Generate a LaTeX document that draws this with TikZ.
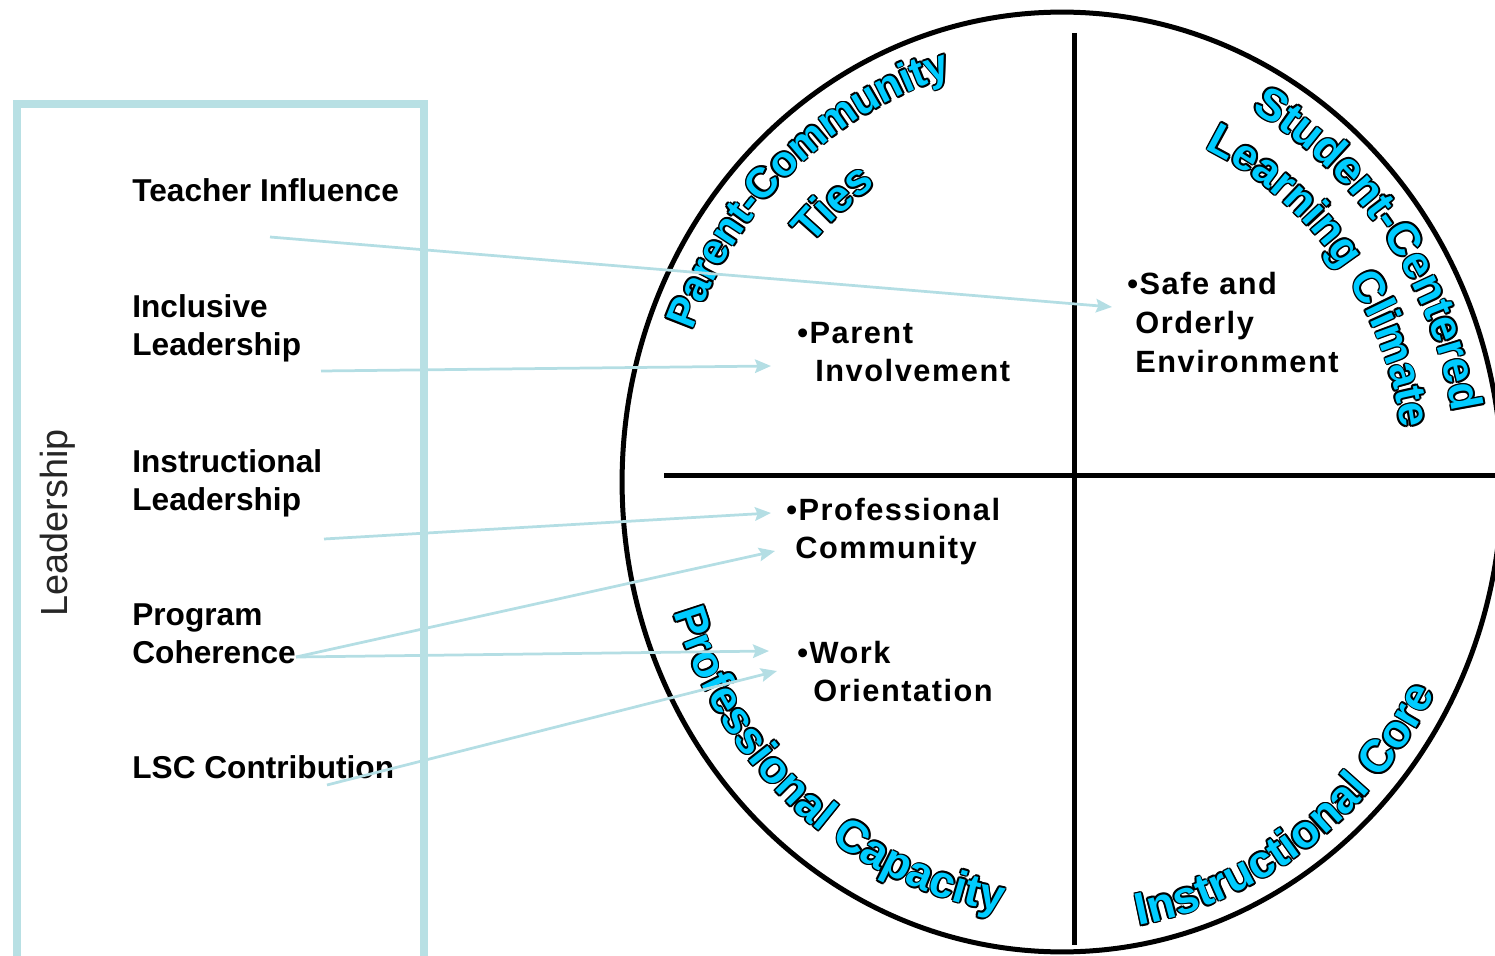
\documentclass[tikz,border=0pt]{standalone}
\usepackage{fontspec}
\setmainfont{Liberation Sans}
\newfontfamily\itemfont{Liberation Sans}[LetterSpace=5.0]
\usetikzlibrary{decorations.text,arrows.meta}

\definecolor{ringcyan}{RGB}{0,204,255}
\definecolor{frameblue}{RGB}{184,224,228}
\definecolor{linkblue}{RGB}{180,222,228}

\def\ringsz{25}
\newcommand{\ringstyle}{\bfseries\fontsize{\ringsz}{\ringsz}\selectfont}

% Outlined caption set along an inner copy of the ring:
% #1 text, #2 font size (pt), #3 radius factor, #4 start angle, #5 end angle
\newcommand{\ringcaption}[5]{%
  \def\ringsz{#2}%
  \foreach \ox/\oy in {1/0,-1/0,0/1,0/-1,0.71/0.71,0.71/-0.71,-0.71/0.71,-0.71/-0.71}{%
    \pgfmathsetmacro{\li}{2+\ox}%
    \path[decorate, decoration={text along path, raise=\oy pt,
        text align={left indent=\li pt}, text={|\ringstyle\color{black}|#1}}]
      ({1062+#3*440*cos(#4)},{-482+#3*470*sin(#4)})
      arc[start angle=#4, end angle=#5, x radius={#3*8.8cm}, y radius={#3*9.4cm}];
  }%
  \path[decorate, decoration={text along path,
      text align={left indent=2pt}, text={|\ringstyle\color{ringcyan}|#1}}]
    ({1062+#3*440*cos(#4)},{-482+#3*470*sin(#4)})
    arc[start angle=#4, end angle=#5, x radius={#3*8.8cm}, y radius={#3*9.4cm}];
}

\tikzset{
  leftlabel/.style={anchor=base west, inner sep=0pt, font=\bfseries\fontsize{18}{22}\selectfont},
  itemlabel/.style={anchor=base west, inner sep=0pt, font=\itemfont\bfseries\fontsize{17.5}{22}\selectfont},
  link/.style={draw=linkblue, line width=0.055cm,
    -{Stealth[length=0.32cm,width=0.27cm,inset=0.05cm]}},
  ringline/.style={line width=0.1cm, black},
}

\begin{document}
\begin{tikzpicture}[x=0.02cm, y=0.02cm]
  \useasboundingbox (0,0) rectangle (1495,-956);
  \clip (0,0) rectangle (1495,-956);

  % the ring and its quadrants
  \coordinate (ring) at (1062,-482);
  \draw[ringline] (ring) ellipse [x radius=8.8cm, y radius=9.4cm];
  \coordinate (vtop) at (1074,-33);
  \coordinate (vbot) at (1074,-945);
  \coordinate (hleft) at (664,-475);
  \coordinate (hright) at (1500,-475);
  \draw[ringline] (vtop) -- (vbot);
  \draw[ringline] (hleft) -- (hright);

  % quadrant captions
  \ringcaption{Parent-Community}{24}{0.9}{159.5}{95}
  \ringcaption{Ties}{25}{0.76}{139}{110}
  \ringcaption{Student-Centered}{25.5}{0.9}{62}{0}
  \ringcaption{Learning Climate}{25}{0.78}{66}{0}
  \ringcaption{Professional Capacity}{25.5}{0.925}{197}{272}
  \ringcaption{Instructional Core}{26}{0.96}{280}{345}

  % items inside the quadrants
  \node[itemlabel] (safe) at (1127,-295)
    {\begin{tabular}[t]{@{}l@{}}•Safe and\\\hspace{0.16cm}Orderly\\\hspace{0.16cm}Environment\end{tabular}};
  \node[itemlabel] (parent) at (797,-343)
    {\begin{tabular}[t]{@{}l@{}}•Parent\\\hspace{0.36cm}Involvement\end{tabular}};
  \node[itemlabel] (profcom) at (786,-520)
    {\begin{tabular}[t]{@{}l@{}}•Professional\\\hspace{0.18cm}Community\end{tabular}};
  \node[itemlabel] (work) at (797,-663)
    {\begin{tabular}[t]{@{}l@{}}•Work\\\hspace{0.32cm}Orientation\end{tabular}};

  % leadership factors
  \node[leftlabel] (teach) at (132,-202) {Teacher Influence};
  \node[leftlabel] (incl) at (132,-317)
    {\begin{tabular}[t]{@{}l@{}}Inclusive\\Leadership\end{tabular}};
  \node[leftlabel] (instr) at (132,-472)
    {\begin{tabular}[t]{@{}l@{}}Instructional\\Leadership\end{tabular}};
  \node[leftlabel] (prog) at (132,-625)
    {\begin{tabular}[t]{@{}l@{}}Program\\Coherence\end{tabular}};
  \node[leftlabel] (lsc) at (132,-778) {LSC Contribution};

  \node[rotate=90, anchor=base, inner sep=0pt, text=black!85,
        font=\fontsize{21.5}{24}\selectfont] (lead) at (67,-523) {Leadership};

  % links from the factors to the supports
  \coordinate (teachS) at (270,-237);   \coordinate (safeT) at (1112,-307);
  \coordinate (inclS) at (321,-371);    \coordinate (parentT) at (771,-366);
  \coordinate (instrS) at (324,-539);   \coordinate (profT) at (771,-513);
  \coordinate (progS) at (296,-657);    \coordinate (profT2) at (775,-551);
  \coordinate (workT) at (769,-651);
  \coordinate (lscS) at (327,-785);     \coordinate (workT2) at (777,-671);
  \draw[link] (teachS) -- (safeT);
  \draw[link] (inclS) -- (parentT);
  \draw[link] (instrS) -- (profT);
  \draw[link] (progS) -- (profT2);
  \draw[link] (progS) -- (workT);
  \draw[link] (lscS) -- (workT2);

  % leadership frame
  \coordinate (fbl) at (17,-990);
  \coordinate (ftl) at (17,-104);
  \coordinate (ftr) at (424,-104);
  \coordinate (fbr) at (424,-990);
  \draw[frameblue, line width=0.16cm] (fbl) -- (ftl) -- (ftr) -- (fbr);
\end{tikzpicture}
\end{document}
